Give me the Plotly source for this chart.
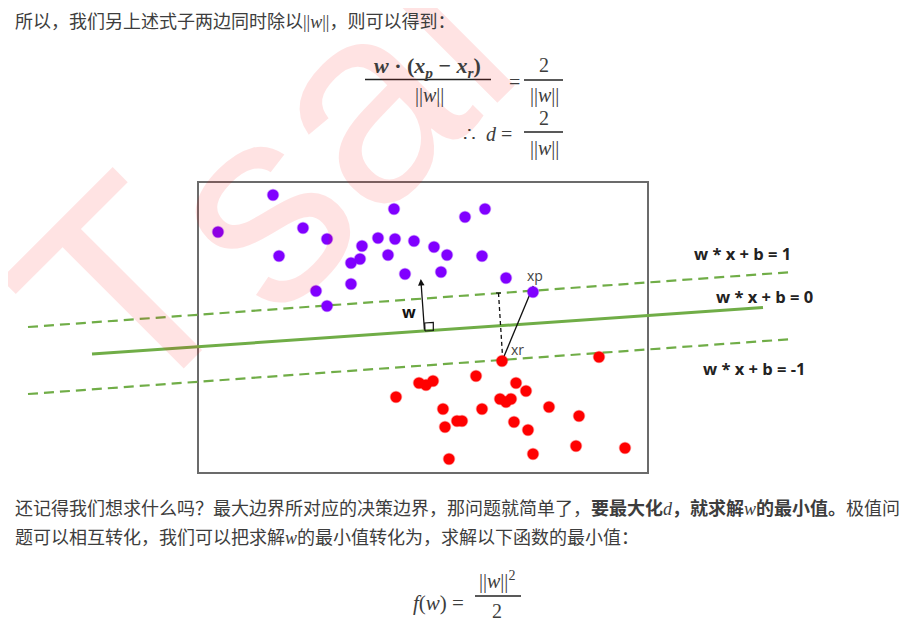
import plotly.graph_objects as go

# ---------------- data (canvas units: x to the right, y downward) ----------------
pos_x = [273, 218, 303, 279, 327, 394, 465, 485, 362, 378, 395, 414, 434, 447, 482,
         360, 351, 388, 405, 441, 351, 316, 327, 506, 533]
pos_y = [195, 232, 228, 256, 239, 209, 217, 209, 246, 238, 239, 241, 247, 255, 256,
         259, 263, 255, 274, 272, 284, 291, 306, 278, 292]

neg_x = [502, 599, 476, 419, 426, 433, 516, 526, 396, 500, 506, 511, 443, 482, 549,
         579, 457, 462, 514, 445, 528, 576, 625, 533, 449]
neg_y = [361, 357, 376, 383, 385, 381, 383, 391, 397, 399, 402, 399, 409, 409, 407,
         416, 421, 421, 422, 427, 430, 446, 448, 454, 459]

hyper_x = [92, 763]          # w*x+b = 0
hyper_y = [354, 307.5]
margin_pos_x = [28, 793]     # w*x+b = 1
margin_pos_y = [327, 272]
margin_neg_x = [28, 793]     # w*x+b = -1
margin_neg_y = [394, 339]

w_arrow_from = (424.5, 331)
w_arrow_to = (420.8, 279)
right_angle_x = [425, 433.3, 433.3, 424.7, 425]
right_angle_y = [331, 330.5, 322.5, 323, 331]
proj_x = [498.5, 502.7]
proj_y = [293, 359]
proj_cap_x = [496, 501]
proj_cap_y = [293, 293]
xr_xp_x = [502.7, 533.3]
xr_xp_y = [359.5, 286]

box = dict(x0=198, x1=648, y0=182, y1=473)

TEXT = "#3d3d3d"
CJK = "Noto Sans CJK SC"
MATH = "Liberation Serif"
GREEN = "#70ad47"
PURPLE = "#8000ff"
RED = "#ff0000"

fig = go.Figure()

# hyperplanes
fig.add_trace(go.Scatter(x=margin_pos_x, y=margin_pos_y, mode="lines",
                         line=dict(color=GREEN, width=2.2, dash="10px,6px"), hoverinfo="skip"))
fig.add_trace(go.Scatter(x=margin_neg_x, y=margin_neg_y, mode="lines",
                         line=dict(color=GREEN, width=2.2, dash="10px,6px"), hoverinfo="skip"))
fig.add_trace(go.Scatter(x=hyper_x, y=hyper_y, mode="lines",
                         line=dict(color=GREEN, width=3), hoverinfo="skip"))

# helper lines
fig.add_trace(go.Scatter(x=right_angle_x, y=right_angle_y, mode="lines",
                         line=dict(color="#111", width=1.2), hoverinfo="skip"))
fig.add_trace(go.Scatter(x=proj_x, y=proj_y, mode="lines",
                         line=dict(color="#111", width=1.3, dash="4px,3px"), hoverinfo="skip"))
fig.add_trace(go.Scatter(x=proj_cap_x, y=proj_cap_y, mode="lines",
                         line=dict(color="#111", width=1.2), hoverinfo="skip"))
fig.add_trace(go.Scatter(x=xr_xp_x, y=xr_xp_y, mode="lines",
                         line=dict(color="#111", width=1.3), hoverinfo="skip"))

# points
fig.add_trace(go.Scatter(x=pos_x, y=pos_y, mode="markers",
                         marker=dict(color=PURPLE, size=11,
                                     line=dict(color="rgba(128,0,255,0.35)", width=1.5)),
                         hoverinfo="skip"))
fig.add_trace(go.Scatter(x=neg_x, y=neg_y, mode="markers",
                         marker=dict(color=RED, size=11,
                                     line=dict(color="rgba(255,0,0,0.35)", width=1.5)),
                         hoverinfo="skip"))

shapes = [dict(type="rect", xref="x", yref="y", **box,
               line=dict(color="#6b6b6b", width=2), fillcolor="rgba(0,0,0,0)", layer="below")]

ann = []


def t(x, y, text, size=18, family=CJK, color=TEXT, xanchor="left", **kw):
    ann.append(dict(x=x, y=y, xref="x", yref="y", text=text, showarrow=False,
                    xanchor=xanchor, yanchor="middle",
                    font=dict(size=size, family=family, color=color), **kw))


# watermark "Tsai"
WM = "rgba(255,0,0,0.11)"
t(124, 291, "T", size=280, family="Liberation Sans", color=WM, xanchor="center", textangle=-45)
t(333, 130, "sai", size=280, family="Liberation Sans", color=WM, xanchor="center", textangle=-45)

# top sentence
t(13, 20, "所以，我们另上述式子两边同时除以"
   f"<span style='font-family:{MATH}'>||<i>w</i>||</span>，则可以得到：", size=18)

# equation 1
t(427, 67, "<b><i>w</i> · (<i>x</i><sub><i>p</i></sub> − <i>x</i><sub><i>r</i></sub>)</b>",
  size=22, family=MATH, xanchor="center")
t(429, 95, "||<i>w</i>||", size=20, family=MATH, xanchor="center")
t(514, 82, "=", size=20, family=MATH, xanchor="center")
t(544, 65, "2", size=20, family=MATH, xanchor="center")
t(544, 95, "||<i>w</i>||", size=20, family=MATH, xanchor="center")
# equation 2
t(514, 134, "∴  <i>d</i> =", size=20, family=MATH, xanchor="right")
t(544, 118, "2", size=20, family=MATH, xanchor="center")
t(544, 148, "||<i>w</i>||", size=20, family=MATH, xanchor="center")

# fraction bars
for (a, b, yy) in [(365, 491, 79.5), (524, 563, 80), (524, 563, 132), (475, 521, 596)]:
    shapes.append(dict(type="line", xref="x", yref="y", x0=a, x1=b, y0=yy, y1=yy,
                       line=dict(color="#222", width=1.4)))

# diagram labels
t(409, 312, "<b>w</b>", size=16, family="Open Sans", color="#111", xanchor="center")
t(535, 275, "xp", size=14, family="Open Sans", color="#444", xanchor="center")
t(517, 349, "xr", size=14, family="Open Sans", color="#444", xanchor="center")
t(742, 253, "<b>w * x + b = 1</b>", size=16.5, family="Open Sans", color="#222", xanchor="center")
t(764, 296, "<b>w * x + b = 0</b>", size=16.5, family="Open Sans", color="#222", xanchor="center")
t(754, 368, "<b>w * x + b = -1</b>", size=16.5, family="Open Sans", color="#222", xanchor="center")

# paragraph
t(13, 507, "还记得我们想求什么吗？最大边界所对应的决策边界，那问题就简单了，"
    f"<b>要最大化</b><span style='font-family:{MATH}'><i>d</i></span><b>，就求解</b>"
    f"<span style='font-family:{MATH}'><i>w</i></span><b>的最小值。</b>极值问", size=18)
t(13, 536, "题可以相互转化，我们可以把求解"
    f"<span style='font-family:{MATH}'><i>w</i></span>的最小值转化为，求解以下函数的最小值：",
  size=18)

# f(w)
t(466, 603, "<i>f</i>(<i>w</i>) =", size=21, family=MATH, xanchor="right")
t(497, 580, "||<i>w</i>||<sup>2</sup>", size=20, family=MATH, xanchor="center")
t(497, 611, "2", size=20, family=MATH, xanchor="center")

# w arrow
ann.append(dict(x=w_arrow_to[0], y=w_arrow_to[1], ax=w_arrow_from[0], ay=w_arrow_from[1],
                xref="x", yref="y", axref="x", ayref="y", text="", showarrow=True,
                arrowhead=2, arrowsize=1, arrowwidth=1.3, arrowcolor="#111"))

# the page body has an 8px margin: the figure starts at page pixel (8, 8)
fig.update_layout(
    width=901, height=623, margin=dict(l=0, r=0, t=0, b=0),
    paper_bgcolor="white", plot_bgcolor="white", showlegend=False,
    xaxis=dict(range=[8, 909], visible=False, fixedrange=True),
    yaxis=dict(range=[631, 8], visible=False, fixedrange=True),
    shapes=shapes, annotations=ann,
)

fig.write_html("out.html", config={"displayModeBar": False})
